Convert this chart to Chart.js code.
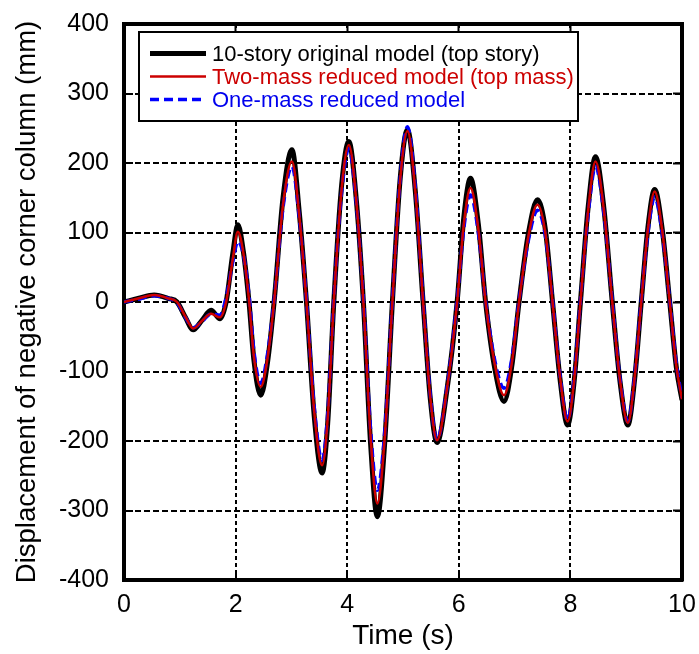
<!DOCTYPE html>
<html>
<head>
<meta charset="utf-8">
<title>Displacement of negative corner column</title>
<script src="https://cdn.jsdelivr.net/npm/chart.js@4"></script>
<style>
  html, body { margin: 0; padding: 0; background: #fff; }
  canvas { display: block; }
</style>
</head>
<body>
<canvas id="dispChart" width="699" height="654"></canvas>
<script>
// time (s) of the read-off points, shared by all three curves
var timeS = [0, 0.25, 0.54, 0.8, 0.95, 1.1, 1.24, 1.4, 1.56, 1.72, 1.83, 1.95, 2.04, 2.14, 2.24, 2.33, 2.45, 2.57, 2.69, 2.85,
  3.01, 3.14, 3.27, 3.41, 3.55, 3.65, 3.76, 3.9, 4.03, 4.16, 4.29, 4.42, 4.54, 4.67, 4.81, 4.95, 5.08, 5.22, 5.36, 5.49,
  5.61, 5.79, 5.97, 6.09, 6.21, 6.35, 6.48, 6.65, 6.81, 6.95, 7.08, 7.25, 7.41, 7.55, 7.68, 7.82, 7.95, 8.07, 8.18, 8.32,
  8.45, 8.6, 8.75, 8.89, 9.03, 9.15, 9.27, 9.39, 9.51, 9.65, 9.78, 9.9, 10];

// displacement (mm)
var originalTop = [0, 5, 10, 5, 0, -22, -40, -26, -12, -24, 0, 70, 111, 72, 0, -85, -134, -88, 0, 150,
  219, 130, 0, -165, -246, -175, 0, 168, 231, 150, 0, -205, -309, -205, 0, 178, 248, 160, 0, -140,
  -202, -125, 0, 122, 178, 112, 0, -98, -143, -92, 0, 100, 147, 105, 0, -115, -177, -112, 0, 138,
  209, 135, 0, -115, -177, -112, 0, 108, 162, 102, 0, -95, -141];

var twoMassTop = [0, 5, 10, 5, 0, -21, -38, -27, -17, -22, 0, 62, 101, 70, 3, -80, -122, -82, 0, 140,
  202, 125, 0, -158, -235, -168, 0, 162, 226, 148, 0, -195, -290, -198, 0, 176, 246, 160, 0, -138,
  -199, -124, 0, 112, 164, 105, 0, -92, -134, -88, 0, 96, 140, 100, 0, -112, -172, -110, 0, 133,
  202, 132, 0, -113, -174, -110, 0, 105, 159, 100, 0, -93, -140];

var oneMass = [0, 4, 9, 5, -1, -22, -37, -28, -17, -19, 6, 58, 87, 68, 10, -72, -117, -76, 2, 136,
  195, 123, 2, -152, -228, -162, 2, 158, 221, 146, 3, -185, -271, -190, 3, 178, 252, 165, 3, -135,
  -198, -122, 2, 106, 154, 100, 2, -86, -124, -82, 2, 90, 132, 96, 2, -110, -170, -107, 2, 128,
  195, 128, 2, -111, -172, -108, 2, 100, 151, 96, 2, -90, -138];

var seriesLabels = ['10-story original model (top story)', 'Two-mass reduced model (top mass)', 'One-mass reduced model'];

function toPoints(vals) {
  return vals.map(function (v, i) { return { x: timeS[i], y: v }; });
}

var fontFam = "'Liberation Sans', Arial, sans-serif";

// legend drawn inside the plot, boxed, like the original figure
var legendBox = {
  id: 'legendBox',
  afterDraw: function (chart) {
    var ctx = chart.ctx, area = chart.chartArea;
    var x0 = area.left + 15, y0 = area.top + 8, w = 439, h = 89;
    ctx.save();
    ctx.fillStyle = '#ffffff';
    ctx.fillRect(x0, y0, w, h);
    ctx.lineWidth = 2;
    ctx.strokeStyle = '#000000';
    ctx.strokeRect(x0, y0, w, h);
    ctx.font = '22px ' + fontFam;
    ctx.textBaseline = 'middle';
    ctx.textAlign = 'left';
    chart.data.datasets.forEach(function (ds, i) {
      var y = y0 + 21.5 + i * 23;
      ctx.beginPath();
      ctx.setLineDash(ds.borderDash || []);
      ctx.lineWidth = ds.borderWidth;
      ctx.strokeStyle = ds.borderColor;
      ctx.moveTo(x0 + 11, y);
      ctx.lineTo(x0 + 67, y);
      ctx.stroke();
      ctx.setLineDash([]);
      ctx.fillStyle = ds.textColor;
      ctx.fillText(ds.label, x0 + 73, y + 1);
    });
    ctx.restore();
  }
};

// fixed axis boxes so the plot frame sits where the original one does
function fixBox(size) {
  return function (s) {
    if (s.isHorizontal()) s.height = size; else s.width = size;
    s.paddingLeft = s.paddingRight = s.paddingTop = s.paddingBottom = 0;
  };
}

var ctx = document.getElementById('dispChart').getContext('2d');
var chart = new Chart(ctx, {
  type: 'line',
  data: {
    datasets: [{
      label: seriesLabels[0],
      data: toPoints(originalTop),
      borderColor: '#000000',
      textColor: '#000000',
      borderWidth: 5,
      order: 3
    }, {
      label: seriesLabels[1],
      data: toPoints(twoMassTop),
      borderColor: '#cc0000',
      textColor: '#cc0000',
      borderWidth: 2.5,
      order: 1
    }, {
      label: seriesLabels[2],
      data: toPoints(oneMass),
      borderColor: '#0000ff',
      textColor: '#0000ee',
      borderWidth: 3.5,
      borderDash: [9, 5],
      order: 2
    }]
  },
  options: {
    responsive: false,
    animation: false,
    layout: { padding: 0, autoPadding: false },
    elements: {
      point: { radius: 0 },
      line: { cubicInterpolationMode: 'monotone', fill: false }
    },
    plugins: {
      legend: { display: false },
      tooltip: { enabled: false }
    },
    scales: {
      x: {
        type: 'linear',
        position: 'bottom',
        min: 0,
        max: 10,
        ticks: { stepSize: 2, color: '#000', padding: 19, font: { family: fontFam, size: 25 } },
        grid: { color: '#000', lineWidth: 2, tickLength: -9, tickWidth: 2, tickColor: '#000' },
        border: { color: '#000', width: 4, dash: [4, 3] },
        title: { display: true, text: 'Time (s)', color: '#000', padding: { top: 0, bottom: 1 }, font: { family: fontFam, size: 28 } },
        afterFit: fixBox(74)
      },
      xTop: {
        type: 'linear',
        position: 'top',
        min: 0,
        max: 10,
        ticks: { stepSize: 2, display: false },
        grid: { drawOnChartArea: false, tickLength: -9, tickWidth: 2, tickColor: '#000' },
        border: { color: '#000', width: 4 },
        afterFit: fixBox(24)
      },
      y: {
        type: 'linear',
        position: 'left',
        min: -400,
        max: 400,
        ticks: { stepSize: 100, color: '#000', padding: 24, font: { family: fontFam, size: 25 } },
        grid: { color: '#000', lineWidth: 2, tickLength: -9, tickWidth: 2, tickColor: '#000' },
        border: { color: '#000', width: 4, dash: [6, 3] },
        title: { display: true, text: 'Displacement of negative corner column (mm)', color: '#000', padding: { top: 11, bottom: 0 }, font: { family: fontFam, size: 27.5 } },
        afterFit: fixBox(124)
      },
      yRight: {
        type: 'linear',
        position: 'right',
        min: -400,
        max: 400,
        ticks: { stepSize: 100, display: false },
        grid: { drawOnChartArea: false, tickLength: -9, tickWidth: 2, tickColor: '#000' },
        border: { color: '#000', width: 4 },
        afterFit: fixBox(17)
      }
    }
  },
  plugins: [legendBox]
});
</script>
</body>
</html>
